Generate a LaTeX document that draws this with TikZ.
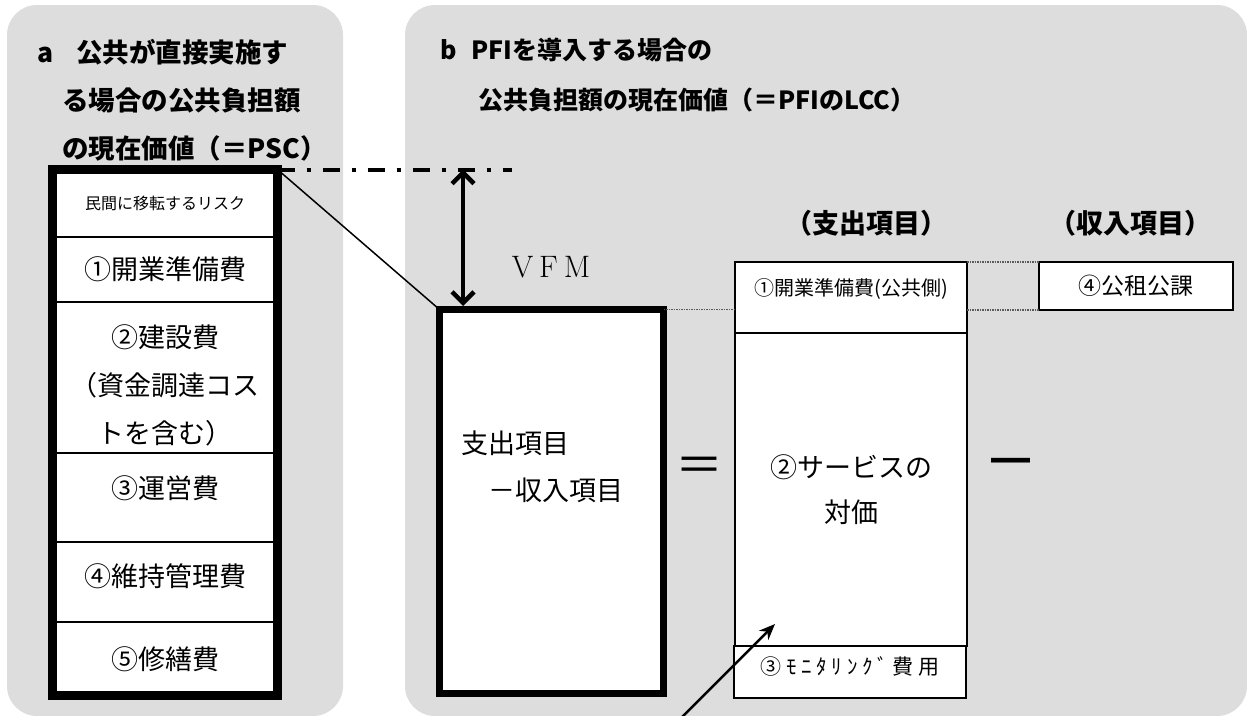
\documentclass[tikz,border=0pt]{standalone}
\usepackage{fontspec}
\usetikzlibrary{arrows.meta}
\newfontfamily\jp{Noto Sans CJK JP}
\definecolor{panelgris}{RGB}{221,221,221}
\definecolor{punteado}{RGB}{90,90,90}
\tikzset{
  fila/.style={draw, line width=2.5pt, fill=white, inner sep=0pt, outer sep=0pt,
    minimum width=225pt, font=\jp\fontsize{27}{48}\selectfont, align=center},
  marco/.style={draw, inner sep=0pt, outer sep=0pt},
  celda/.style={draw, line width=2pt, fill=white, inner sep=0pt, outer sep=0pt,
    minimum width=232pt, font=\jp\fontsize{27}{45}\selectfont, align=center},
  titulo/.style={font=\jp\bfseries\fontsize{26}{48}\selectfont, align=left,
    inner sep=0pt, anchor=west},
  cabecera/.style={font=\jp\bfseries\fontsize{27}{30}\selectfont, inner sep=0pt},
  enlace/.style={densely dotted, line width=1.5pt, punteado},
}
\begin{document}
\begin{tikzpicture}[x=1pt,y=-1pt]
    \useasboundingbox (0,0) rectangle (1247,715);

    % Paneles
    \fill[panelgris, rounded corners=30pt] (7,5) rectangle (343,716);
    \fill[panelgris, rounded corners=30pt] (405,5) rectangle (1247,716);

    % Titulos
    \node[titulo, font=\jp\bfseries\fontsize{26.5}{48}\selectfont] (tituloa) at (37,100)
        {a\hspace{23pt}公共が直接実施す\\\hspace*{25pt}る場合の公共負担額\\\hspace*{25pt}の現在価値（＝PSC）};
    \node[titulo, font=\jp\bfseries\fontsize{25}{50}\selectfont] (titulob) at (440,75)
        {b\hspace{15pt}PFIを導入する場合の\\\hspace*{38pt}公共負担額の現在価値（＝PFIのLCC）};
    \node[cabecera] (gastos) at (866,223) {（支出項目）};
    \node[cabecera] (ingresos) at (1130,223) {（収入項目）};

    % Caja PSC
    \node[fila, minimum height=67.5pt, font=\jp\fontsize{16}{20}\selectfont] (r0) at (165,203.25) {民間に移転するリスク};
    \node[fila, minimum height=65pt] (r1) at (165,269.5) {①開業準備費};
    \node[fila, minimum height=151pt] (r2) at (165,377.5) {};
    \node[fila, draw=none, fill=none] (r2texto) at (165,385) {②建設費\\（資金調達コス\\トを含む）};
    \node[fila, minimum height=89pt, text depth=21pt] (r3) at (165,497.5) {③運営費};
    \node[fila, minimum height=80pt, text depth=13pt] (r4) at (165,582) {④維持管理費};
    \node[fila, minimum height=73.5pt] (r5) at (165,658.75) {⑤修繕費};
    \node[marco, line width=9pt, minimum width=225pt, minimum height=526pt] (psc) at (165,432.5) {};

    % Caja PFI
    \node[marco, line width=7pt, fill=white, minimum width=224pt, minimum height=384pt] (lcc) at (551.5,501.5) {};
    \node[anchor=west, align=left, inner sep=0pt, font=\jp\fontsize{27}{47}\selectfont] (lcctexto) at (461,466.5)
        {支出項目\\　－収入項目};

    % Partidas
    \node[celda, minimum height=71pt, text depth=20pt, font=\jp\fontsize{20}{24}\selectfont] (s1) at (851,297.5) {①開業準備費(公共側)};
    \node[celda, minimum height=313pt] (s2) at (851,489.5) {②サービスの\\対価};
    \node[celda, minimum height=52pt, text depth=12pt, font=\jp\fontsize{21}{24}\selectfont\addfontfeature{LetterSpace=22}] (s3) at (850,672) {③ﾓﾆﾀﾘﾝｸﾞ費用};
    \node[celda, minimum width=194pt, minimum height=48pt, font=\jp\fontsize{23}{26}\selectfont] (k4) at (1136,286) {④公租公課};

    % Lineas de referencia
    \coordinate (nivel) at (512,169.5);
    \coordinate (vfm) at (463,169.5);
    \draw[line width=4pt, dash pattern=on 17pt off 12pt on 4pt off 12pt] (psc.north east) -- (nivel);
    \draw[line width=1.5pt] (psc.north east) -- (lcc.north west);
    \draw[enlace] (lcc.north east) -- (lcc.north east -| s1.west);
    \draw[enlace] (s1.north east) -- (k4.north west);
    \draw[enlace] (s1.east |- k4.south) -- (k4.south west);

    % VFM
    \draw[line width=4.5pt, {Straight Barb[length=11pt,width=22pt]}-{Straight Barb[length=11pt,width=22pt]}, shorten >=3.5pt]
        (vfm) -- (vfm |- lcc.north);
    \node[font=\fontsize{31}{33}\selectfont, inner sep=0pt] (vfmtexto) at (551,267) {V\hspace{6pt}F\hspace{6pt}M};

    % Signos
    \node[font=\jp\fontsize{48}{50}\selectfont, inner sep=0pt] (igual) at (699,470) {＝};
    \node[font=\jp\fontsize{39}{40}\selectfont, inner sep=0pt] (menos) at (1011,467) {━};

    % Flecha
    \coordinate (cola) at (680,719);
    \coordinate (punta) at (775,624);
    \draw[line width=2.5pt, -{Stealth[length=16pt,width=13pt]}] (cola) -- (punta);
\end{tikzpicture}
\end{document}
